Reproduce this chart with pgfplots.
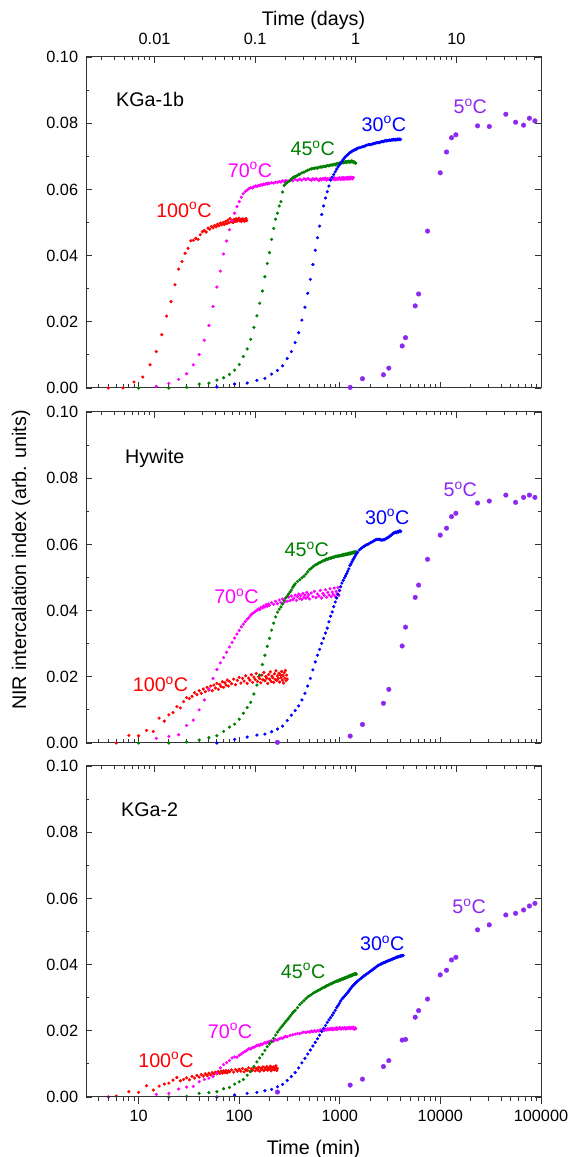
\documentclass[border=0pt]{standalone}
\usepackage{fontspec}
\setmainfont{Liberation Sans}
\usepackage{pgfplots}
\pgfplotsset{compat=1.18}
\newcommand\ticksize{\fontsize{16.3}{19}\selectfont}
\newcommand\labsize{\fontsize{19.7}{23}\selectfont}
\definecolor{cred}{RGB}{255,0,0}
\definecolor{cmag}{RGB}{255,0,255}
\definecolor{cgreen}{RGB}{0,128,0}
\definecolor{cblue}{RGB}{0,0,255}
\definecolor{cviol}{RGB}{140,40,240}
\definecolor{axgray}{RGB}{51,51,51}
\tikzset{tlab/.style={font=\labsize, anchor=base, inner sep=0pt}}
\pgfplotsset{
  every axis/.append style={
    width=455pt, height=331pt, scale only axis,
    tick align=inside,
    major tick length=6pt, minor tick length=3.5pt,
    axis line style={line width=1pt, draw=axgray},
    every tick/.append style={line width=0.9pt, draw=axgray},
    tick label style={font=\ticksize},
  },
}
\begin{document}
\begin{tikzpicture}
\path[use as bounding box] (0,0) rectangle (571pt,1157pt);
%================ Panel 1: KGa-1b
\begin{axis}[at={(86pt,769pt)}, anchor=south west,
    xmode=log, xmin=3, xmax=100000, ymin=0, ymax=0.1,
    xtick={10,100,1000,10000,100000},
    minor xtick={4,5,6,7,8,9,20,30,40,50,60,70,80,90,200,300,400,500,600,700,800,900,2000,3000,4000,5000,6000,7000,8000,9000,20000,30000,40000,50000,60000,70000,80000,90000},
    xtick pos=bottom, xticklabels={},
    ytick={0,0.02,0.04,0.06,0.08,0.1},
    minor ytick={0.01,0.03,0.05,0.07,0.09},
    scaled y ticks=false,
    yticklabel style={/pgf/number format/fixed, /pgf/number format/fixed zerofill, /pgf/number format/precision=2, /pgf/number format/assume math mode=true, anchor=east, inner sep=0pt, xshift=-7.7pt}]
\addplot[only marks, mark=*, mark size=1.4pt, color=cred] coordinates {(5,0.0000)(7,0.0000)(9,0.0018)(11,0.0033)(13,0.0070)(15,0.0110)(17,0.0161)(19,0.0217)(21,0.0261)(23,0.0312)(25,0.0359)(27,0.0382)(29,0.0407)(31,0.0422)(33,0.0445)(35,0.0446)(37,0.0452)(39,0.0449)(41,0.0463)(43,0.0472)(45,0.0476)(47,0.0471)(49,0.0483)(51,0.0480)(53,0.0488)(55,0.0484)(57,0.0491)(59,0.0487)(61,0.0495)(63,0.0490)(65,0.0498)(67,0.0493)(69,0.0500)(71,0.0494)(73,0.0503)(75,0.0497)(77,0.0507)(79,0.0499)(81,0.0512)(83,0.0502)(85,0.0506)(87,0.0500)(89,0.0509)(91,0.0503)(93,0.0511)(95,0.0504)(97,0.0508)(99,0.0513)(101,0.0505)(103,0.0509)(105,0.0503)(107,0.0511)(109,0.0506)(111,0.0510)(113,0.0504)(115,0.0508)(117,0.0512)(119,0.0506)};
\addplot[only marks, mark=*, mark size=1.4pt, color=cmag] coordinates {(15,0.0005)(20,0.0014)(25,0.0026)(30,0.0043)(35,0.0070)(40,0.0101)(45,0.0144)(50,0.0189)(55,0.0246)(60,0.0305)(65,0.0353)(70,0.0405)(75,0.0444)(80,0.0478)(85,0.0505)(90,0.0528)(95,0.0548)(100,0.0563)(105,0.0576)(110,0.0587)(115,0.0594)(120,0.0598)(125,0.0602)(130,0.0605)(135,0.0604)(140,0.0608)(145,0.0610)(150,0.0609)(155,0.0612)(160,0.0611)(165,0.0614)(170,0.0613)(175,0.0616)(180,0.0615)(185,0.0618)(190,0.0616)(195,0.0619)(200,0.0618)(210,0.0620)(220,0.0619)(230,0.0622)(240,0.0621)(250,0.0624)(260,0.0622)(270,0.0626)(280,0.0624)(290,0.0627)(300,0.0625)(320,0.0628)(340,0.0626)(360,0.0630)(380,0.0627)(400,0.0631)(420,0.0628)(440,0.0632)(460,0.0629)(480,0.0633)(500,0.0630)(520,0.0628)(540,0.0632)(560,0.0629)(580,0.0633)(600,0.0630)(620,0.0627)(640,0.0632)(660,0.0629)(680,0.0633)(700,0.0630)(720,0.0634)(740,0.0628)(760,0.0632)(780,0.0630)(800,0.0634)(820,0.0629)(840,0.0633)(860,0.0631)(880,0.0635)(900,0.0629)(920,0.0633)(940,0.0630)(960,0.0634)(980,0.0631)(1000,0.0635)(1020,0.0630)(1040,0.0634)(1060,0.0631)(1080,0.0636)(1100,0.0630)(1120,0.0634)(1140,0.0632)(1160,0.0636)(1180,0.0631)(1200,0.0635)(1220,0.0632)(1240,0.0637)(1260,0.0631)(1280,0.0635)(1300,0.0633)(1320,0.0637)(1340,0.0632)(1360,0.0636)};
\addplot[only marks, mark=*, mark size=1.4pt, color=cgreen] coordinates {(10,0.0000)(20,0.0000)(30,0.0002)(40,0.0012)(50,0.0015)(60,0.0024)(70,0.0031)(80,0.0041)(90,0.0054)(100,0.0071)(110,0.0095)(120,0.0118)(130,0.0147)(140,0.0183)(150,0.0218)(160,0.0256)(170,0.0293)(180,0.0336)(190,0.0376)(200,0.0409)(210,0.0449)(220,0.0482)(230,0.0510)(240,0.0528)(250,0.0550)(260,0.0563)(270,0.0592)(280,0.0612)(290,0.0617)(300,0.0621)(310,0.0624)(320,0.0627)(330,0.0631)(340,0.0635)(350,0.0637)(360,0.0639)(370,0.0640)(380,0.0642)(390,0.0645)(400,0.0646)(420,0.0650)(440,0.0652)(460,0.0655)(480,0.0658)(500,0.0660)(520,0.0662)(540,0.0663)(560,0.0664)(580,0.0665)(600,0.0664)(620,0.0667)(640,0.0668)(660,0.0667)(680,0.0669)(700,0.0670)(720,0.0669)(740,0.0671)(760,0.0672)(780,0.0671)(800,0.0673)(820,0.0674)(840,0.0673)(860,0.0675)(880,0.0676)(900,0.0674)(920,0.0677)(940,0.0678)(960,0.0676)(980,0.0679)(1000,0.0680)(1020,0.0678)(1040,0.0681)(1060,0.0682)(1080,0.0680)(1100,0.0683)(1120,0.0682)(1140,0.0684)(1160,0.0681)(1180,0.0684)(1200,0.0683)(1220,0.0685)(1240,0.0682)(1260,0.0685)(1280,0.0683)(1300,0.0686)(1320,0.0683)(1340,0.0685)(1360,0.0682)(1380,0.0684)(1400,0.0681)(1420,0.0680)(1440,0.0679)};
\addplot[only marks, mark=*, mark size=1.4pt, color=cblue] coordinates {(60,0.0003)(90,0.0012)(120,0.0015)(150,0.0023)(180,0.0029)(210,0.0042)(240,0.0053)(270,0.0067)(300,0.0089)(330,0.0110)(360,0.0137)(390,0.0167)(420,0.0205)(450,0.0244)(480,0.0286)(510,0.0328)(540,0.0373)(570,0.0416)(600,0.0454)(630,0.0489)(660,0.0524)(690,0.0550)(720,0.0574)(750,0.0593)(780,0.0610)(810,0.0628)(840,0.0637)(870,0.0645)(900,0.0653)(930,0.0661)(960,0.0668)(990,0.0674)(1020,0.0679)(1050,0.0685)(1080,0.0690)(1110,0.0695)(1140,0.0699)(1170,0.0702)(1200,0.0705)(1230,0.0708)(1260,0.0711)(1290,0.0713)(1320,0.0715)(1350,0.0717)(1380,0.0718)(1410,0.0720)(1440,0.0721)(1470,0.0722)(1500,0.0724)(1560,0.0726)(1620,0.0727)(1680,0.0729)(1740,0.0730)(1800,0.0732)(1860,0.0734)(1920,0.0735)(1980,0.0736)(2040,0.0735)(2100,0.0737)(2160,0.0738)(2220,0.0739)(2280,0.0740)(2340,0.0741)(2400,0.0742)(2460,0.0741)(2520,0.0743)(2580,0.0744)(2640,0.0745)(2700,0.0744)(2760,0.0746)(2820,0.0747)(2880,0.0746)(2940,0.0748)(3000,0.0747)(3060,0.0748)(3120,0.0749)(3180,0.0748)(3240,0.0749)(3300,0.0750)(3360,0.0749)(3420,0.0751)(3480,0.0750)(3540,0.0749)(3600,0.0751)(3660,0.0750)(3720,0.0752)(3780,0.0750)(3840,0.0751)(3900,0.0752)(3960,0.0750)(4020,0.0751)};
\addplot[only marks, mark=*, mark size=2.3pt, color=cviol] coordinates {(1268,0.0002)(1680,0.0028)(2716,0.0040)(3070,0.0060)(4170,0.0127)(4500,0.0152)(5620,0.0248)(6070,0.0284)(7450,0.0474)(9960,0.0650)(11500,0.0713)(12900,0.0756)(14260,0.0765)(23400,0.0792)(30600,0.0790)(44700,0.0827)(55900,0.0803)(67100,0.0794)(76700,0.0815)(87000,0.0807)};
\node[font=\labsize, anchor=base west, inner sep=0pt] at (axis cs:5.95,0.0850) {KGa-1b};
\node[tlab, text=cred] at (axis cs:28.2,0.0516) {100\textsuperscript{o}C};
\node[tlab, text=cmag] at (axis cs:128,0.0637) {70\textsuperscript{o}C};
\node[tlab, text=cgreen] at (axis cs:538,0.0701) {45\textsuperscript{o}C};
\node[tlab, text=cblue] at (axis cs:2740,0.0776) {30\textsuperscript{o}C};
\node[tlab, text=cviol] at (axis cs:19800,0.0828) {5\textsuperscript{o}C};
\end{axis}
\begin{axis}[at={(86pt,769pt)}, anchor=south west,
    xmode=log, xmin=0.00208333, xmax=69.4444, ymin=0, ymax=1,
    hide y axis, axis x line*=top,
    xtick={0.01,0.1,1,10}, xticklabels={0.01,0.1,1,10},
    minor xtick={0.003,0.004,0.005,0.006,0.007,0.008,0.009,0.02,0.03,0.04,0.05,0.06,0.07,0.08,0.09,0.2,0.3,0.4,0.5,0.6,0.7,0.8,0.9,2,3,4,5,6,7,8,9,20,30,40,50,60},
    xticklabel style={anchor=base, inner sep=0pt, yshift=12pt},
    xlabel={Time (days)}, xlabel style={at={(axis description cs:0.5,1)}, anchor=base, inner sep=0pt, yshift=31pt, font=\labsize}]
\addplot[draw=none] coordinates {(1,0.5)};
\end{axis}
%================ Panel 2: Hywite
\begin{axis}[at={(86pt,414pt)}, anchor=south west,
    xmode=log, xmin=3, xmax=100000, ymin=0, ymax=0.1,
    xtick={10,100,1000,10000,100000},
    minor xtick={4,5,6,7,8,9,20,30,40,50,60,70,80,90,200,300,400,500,600,700,800,900,2000,3000,4000,5000,6000,7000,8000,9000,20000,30000,40000,50000,60000,70000,80000,90000},
    xtick pos=bottom, xticklabels={},
    ytick={0,0.02,0.04,0.06,0.08,0.1},
    minor ytick={0.01,0.03,0.05,0.07,0.09},
    scaled y ticks=false,
    yticklabel style={/pgf/number format/fixed, /pgf/number format/fixed zerofill, /pgf/number format/precision=2, /pgf/number format/assume math mode=true, anchor=east, inner sep=0pt, xshift=-7.7pt},
    ylabel={NIR intercalation index (arb. units)}, ylabel style={at={(axis description cs:-0.1429,0.553)}, anchor=center, inner sep=0pt, font=\labsize}]
\addplot[only marks, mark=*, mark size=1.4pt, color=cred] coordinates {(6,0.0000)(8,0.0023)(10,0.0022)(12,0.0038)(14,0.0035)(16,0.0075)(18,0.0066)(20,0.0085)(22,0.0092)(24,0.0110)(26,0.0106)(28,0.0125)(30,0.0137)(32,0.0134)(34,0.0141)(36,0.0152)(38,0.0146)(40,0.0158)(42,0.0150)(44,0.0163)(46,0.0155)(48,0.0168)(50,0.0160)(52,0.0172)(54,0.0158)(56,0.0175)(58,0.0166)(60,0.0180)(62,0.0162)(64,0.0177)(66,0.0170)(68,0.0185)(70,0.0168)(72,0.0182)(74,0.0175)(76,0.0190)(78,0.0172)(80,0.0186)(84,0.0179)(88,0.0193)(92,0.0176)(96,0.0189)(100,0.0198)(104,0.0181)(108,0.0195)(112,0.0187)(116,0.0203)(120,0.0180)(124,0.0196)(128,0.0190)(132,0.0206)(136,0.0183)(140,0.0199)(144,0.0192)(148,0.0210)(152,0.0186)(156,0.0200)(160,0.0194)(164,0.0182)(168,0.0205)(172,0.0191)(176,0.0213)(180,0.0188)(184,0.0201)(188,0.0196)(192,0.0180)(196,0.0207)(200,0.0193)(204,0.0215)(208,0.0186)(212,0.0202)(216,0.0197)(220,0.0183)(224,0.0209)(228,0.0192)(232,0.0218)(236,0.0189)(240,0.0203)(244,0.0195)(248,0.0211)(252,0.0184)(256,0.0206)(260,0.0198)(264,0.0216)(268,0.0190)(272,0.0204)(276,0.0181)(280,0.0212)(284,0.0196)(288,0.0219)(292,0.0188)(296,0.0205)(300,0.0193)};
\addplot[only marks, mark=*, mark size=1.4pt, color=cmag] coordinates {(15,0.0014)(20,0.0020)(25,0.0025)(30,0.0053)(35,0.0069)(40,0.0100)(45,0.0130)(50,0.0163)(55,0.0195)(60,0.0222)(65,0.0242)(70,0.0258)(75,0.0274)(80,0.0290)(85,0.0304)(90,0.0317)(95,0.0329)(100,0.0340)(105,0.0351)(110,0.0359)(115,0.0367)(120,0.0374)(125,0.0379)(130,0.0386)(135,0.0391)(140,0.0394)(145,0.0398)(150,0.0401)(155,0.0405)(160,0.0403)(165,0.0410)(170,0.0408)(175,0.0414)(180,0.0411)(185,0.0418)(190,0.0413)(195,0.0420)(200,0.0416)(210,0.0424)(220,0.0419)(230,0.0428)(240,0.0421)(250,0.0432)(260,0.0424)(270,0.0435)(280,0.0426)(290,0.0438)(300,0.0428)(310,0.0441)(320,0.0430)(330,0.0444)(340,0.0433)(350,0.0438)(360,0.0447)(370,0.0431)(380,0.0442)(390,0.0450)(400,0.0436)(410,0.0445)(420,0.0434)(430,0.0452)(440,0.0440)(450,0.0447)(460,0.0437)(470,0.0455)(480,0.0441)(490,0.0448)(500,0.0435)(520,0.0453)(540,0.0442)(560,0.0458)(580,0.0439)(600,0.0450)(620,0.0444)(640,0.0461)(660,0.0438)(680,0.0452)(700,0.0446)(720,0.0463)(740,0.0440)(760,0.0455)(780,0.0447)(800,0.0466)(820,0.0442)(840,0.0456)(860,0.0449)(880,0.0468)(900,0.0443)(920,0.0458)(940,0.0451)(960,0.0470)(980,0.0446)(1000,0.0460)};
\addplot[only marks, mark=*, mark size=1.4pt, color=cgreen] coordinates {(10,0.0000)(20,0.0000)(30,0.0003)(40,0.0009)(50,0.0016)(60,0.0022)(70,0.0035)(80,0.0048)(90,0.0057)(100,0.0072)(110,0.0090)(120,0.0107)(130,0.0123)(140,0.0148)(150,0.0175)(160,0.0205)(170,0.0237)(180,0.0265)(190,0.0292)(200,0.0316)(210,0.0341)(220,0.0362)(230,0.0381)(240,0.0395)(250,0.0404)(260,0.0411)(270,0.0420)(280,0.0430)(290,0.0438)(300,0.0444)(310,0.0450)(320,0.0456)(330,0.0462)(340,0.0470)(350,0.0476)(360,0.0481)(380,0.0488)(400,0.0493)(420,0.0499)(440,0.0504)(460,0.0510)(480,0.0517)(500,0.0524)(520,0.0528)(540,0.0532)(560,0.0536)(580,0.0539)(600,0.0541)(620,0.0544)(640,0.0546)(660,0.0548)(680,0.0550)(700,0.0552)(720,0.0553)(740,0.0556)(760,0.0555)(780,0.0558)(800,0.0559)(820,0.0558)(840,0.0561)(860,0.0562)(880,0.0561)(900,0.0564)(920,0.0563)(940,0.0565)(960,0.0564)(980,0.0566)(1000,0.0565)(1020,0.0567)(1040,0.0566)(1060,0.0569)(1080,0.0567)(1100,0.0570)(1120,0.0568)(1140,0.0571)(1160,0.0569)(1180,0.0572)(1200,0.0570)(1220,0.0573)(1240,0.0571)(1260,0.0574)(1280,0.0572)(1300,0.0575)(1320,0.0573)(1340,0.0576)(1360,0.0574)(1380,0.0577)(1400,0.0575)(1420,0.0578)(1440,0.0576)(1460,0.0577)};
\addplot[only marks, mark=*, mark size=1.4pt, color=cblue] coordinates {(60,0.0000)(90,0.0011)(120,0.0018)(150,0.0024)(180,0.0027)(210,0.0034)(240,0.0042)(270,0.0051)(300,0.0068)(330,0.0084)(360,0.0098)(390,0.0112)(420,0.0130)(450,0.0150)(480,0.0172)(510,0.0195)(540,0.0221)(570,0.0245)(600,0.0265)(630,0.0283)(660,0.0301)(690,0.0316)(720,0.0332)(750,0.0347)(780,0.0366)(810,0.0383)(840,0.0396)(870,0.0412)(900,0.0426)(930,0.0438)(960,0.0449)(990,0.0461)(1020,0.0472)(1050,0.0483)(1080,0.0491)(1110,0.0499)(1140,0.0505)(1170,0.0512)(1200,0.0519)(1230,0.0526)(1260,0.0536)(1290,0.0541)(1320,0.0547)(1350,0.0553)(1380,0.0558)(1410,0.0563)(1440,0.0568)(1470,0.0572)(1500,0.0576)(1560,0.0583)(1620,0.0587)(1680,0.0591)(1740,0.0594)(1800,0.0597)(1860,0.0599)(1920,0.0601)(1980,0.0603)(2040,0.0606)(2100,0.0608)(2160,0.0610)(2220,0.0612)(2280,0.0614)(2340,0.0615)(2400,0.0615)(2460,0.0616)(2520,0.0614)(2580,0.0613)(2640,0.0613)(2700,0.0614)(2760,0.0614)(2820,0.0616)(2880,0.0617)(2940,0.0619)(3000,0.0620)(3060,0.0622)(3120,0.0624)(3180,0.0626)(3240,0.0628)(3300,0.0630)(3360,0.0632)(3420,0.0634)(3480,0.0635)(3540,0.0636)(3600,0.0637)(3660,0.0635)(3720,0.0638)(3780,0.0639)(3840,0.0637)(3900,0.0640)(3960,0.0641)(4020,0.0639)};
\addplot[only marks, mark=*, mark size=2.3pt, color=cviol] coordinates {(240,0.0002)(1268,0.0021)(1680,0.0056)(2716,0.0120)(3070,0.0162)(4170,0.0293)(4500,0.0350)(5620,0.0440)(6070,0.0477)(7450,0.0555)(9960,0.0628)(11500,0.0649)(12900,0.0684)(14260,0.0694)(23400,0.0725)(30600,0.0731)(44700,0.0749)(55900,0.0727)(67100,0.0742)(76700,0.0749)(87000,0.0742)};
\node[font=\labsize, anchor=base west, inner sep=0pt] at (axis cs:7.31,0.0843) {Hywite};
\node[tlab, text=cred] at (axis cs:16.5,0.0155) {100\textsuperscript{o}C};
\node[tlab, text=cmag] at (axis cs:93.8,0.0420) {70\textsuperscript{o}C};
\node[tlab, text=cgreen] at (axis cs:470,0.0563) {45\textsuperscript{o}C};
\node[tlab, text=cblue] at (axis cs:2960,0.0661) {30\textsuperscript{o}C};
\node[tlab, text=cviol] at (axis cs:15740,0.0744) {5\textsuperscript{o}C};
\end{axis}
\begin{axis}[at={(86pt,414pt)}, anchor=south west,
    xmode=log, xmin=0.00208333, xmax=69.4444, ymin=0, ymax=1,
    hide y axis, axis x line*=top,
    xtick={0.01,0.1,1,10}, xticklabels={},
    minor xtick={0.003,0.004,0.005,0.006,0.007,0.008,0.009,0.02,0.03,0.04,0.05,0.06,0.07,0.08,0.09,0.2,0.3,0.4,0.5,0.6,0.7,0.8,0.9,2,3,4,5,6,7,8,9,20,30,40,50,60}]
\addplot[draw=none] coordinates {(1,0.5)};
\end{axis}
%================ Panel 3: KGa-2
\begin{axis}[at={(86pt,60pt)}, anchor=south west,
    xmode=log, xmin=3, xmax=100000, ymin=0, ymax=0.1,
    xmajorticks=false, xminorticks=false,
    ytick={0,0.02,0.04,0.06,0.08,0.1},
    minor ytick={0.01,0.03,0.05,0.07,0.09},
    scaled y ticks=false,
    yticklabel style={/pgf/number format/fixed, /pgf/number format/fixed zerofill, /pgf/number format/precision=2, /pgf/number format/assume math mode=true, anchor=east, inner sep=0pt, xshift=-7.7pt}]
\addplot[only marks, mark=*, mark size=1.4pt, color=cred] coordinates {(5,0.0000)(6,0.0003)(8,0.0016)(10,0.0014)(12,0.0034)(14,0.0021)(16,0.0033)(18,0.0039)(20,0.0042)(22,0.0051)(24,0.0059)(26,0.0049)(28,0.0053)(30,0.0058)(32,0.0052)(34,0.0062)(36,0.0057)(38,0.0065)(40,0.0060)(42,0.0068)(44,0.0063)(46,0.0070)(48,0.0065)(50,0.0072)(52,0.0067)(54,0.0074)(56,0.0069)(58,0.0075)(60,0.0070)(62,0.0077)(64,0.0071)(66,0.0078)(68,0.0072)(70,0.0079)(72,0.0074)(74,0.0080)(76,0.0073)(78,0.0079)(80,0.0076)(84,0.0082)(88,0.0075)(92,0.0083)(96,0.0078)(100,0.0084)(104,0.0078)(108,0.0086)(112,0.0076)(116,0.0083)(120,0.0080)(124,0.0088)(128,0.0077)(132,0.0085)(136,0.0081)(140,0.0089)(144,0.0079)(148,0.0086)(152,0.0082)(156,0.0090)(160,0.0078)(164,0.0087)(168,0.0083)(172,0.0091)(176,0.0080)(180,0.0088)(184,0.0084)(188,0.0092)(192,0.0081)(196,0.0087)(200,0.0085)(204,0.0093)(208,0.0079)(212,0.0089)(216,0.0083)(220,0.0091)(224,0.0082)(228,0.0088)(232,0.0094)(236,0.0080)(240,0.0086)};
\addplot[only marks, mark=*, mark size=1.4pt, color=cmag] coordinates {(5,0.0000)(15,0.0008)(20,0.0011)(25,0.0024)(30,0.0030)(35,0.0032)(40,0.0046)(45,0.0053)(50,0.0057)(55,0.0062)(60,0.0072)(65,0.0088)(70,0.0098)(75,0.0104)(80,0.0110)(85,0.0118)(90,0.0121)(95,0.0120)(100,0.0126)(105,0.0130)(110,0.0135)(115,0.0138)(120,0.0142)(125,0.0146)(130,0.0145)(135,0.0149)(140,0.0150)(145,0.0153)(150,0.0155)(155,0.0157)(160,0.0156)(165,0.0160)(170,0.0159)(175,0.0162)(180,0.0164)(185,0.0163)(190,0.0166)(195,0.0165)(200,0.0168)(210,0.0170)(220,0.0169)(230,0.0173)(240,0.0172)(250,0.0176)(260,0.0178)(270,0.0177)(280,0.0181)(290,0.0183)(300,0.0182)(320,0.0186)(340,0.0188)(360,0.0190)(380,0.0192)(400,0.0191)(420,0.0194)(440,0.0196)(460,0.0195)(480,0.0197)(500,0.0196)(520,0.0199)(540,0.0197)(560,0.0200)(580,0.0198)(600,0.0201)(620,0.0199)(640,0.0203)(660,0.0200)(680,0.0204)(700,0.0201)(720,0.0205)(740,0.0202)(760,0.0206)(780,0.0203)(800,0.0207)(820,0.0204)(840,0.0208)(860,0.0203)(880,0.0207)(900,0.0205)(920,0.0209)(940,0.0204)(960,0.0208)(980,0.0206)(1000,0.0210)(1030,0.0205)(1060,0.0209)(1090,0.0206)(1120,0.0210)(1150,0.0205)(1180,0.0209)(1210,0.0207)(1240,0.0211)(1270,0.0206)(1300,0.0210)(1330,0.0207)(1360,0.0211)(1390,0.0205)(1420,0.0209)(1440,0.0206)};
\addplot[only marks, mark=*, mark size=1.4pt, color=cgreen] coordinates {(20,0.0000)(30,0.0002)(40,0.0011)(50,0.0013)(60,0.0016)(70,0.0025)(80,0.0029)(90,0.0039)(100,0.0046)(110,0.0053)(120,0.0066)(130,0.0077)(140,0.0092)(150,0.0106)(160,0.0118)(170,0.0129)(180,0.0141)(190,0.0152)(200,0.0160)(210,0.0167)(220,0.0177)(230,0.0187)(240,0.0196)(250,0.0203)(260,0.0210)(270,0.0216)(280,0.0222)(290,0.0228)(300,0.0233)(310,0.0238)(320,0.0244)(330,0.0249)(340,0.0254)(350,0.0258)(360,0.0262)(380,0.0270)(400,0.0279)(420,0.0285)(440,0.0291)(460,0.0297)(480,0.0302)(500,0.0306)(520,0.0309)(540,0.0313)(560,0.0316)(580,0.0318)(600,0.0321)(620,0.0323)(640,0.0325)(660,0.0328)(680,0.0330)(700,0.0332)(720,0.0333)(740,0.0336)(760,0.0337)(780,0.0339)(800,0.0341)(820,0.0342)(840,0.0344)(860,0.0345)(880,0.0347)(900,0.0348)(920,0.0349)(940,0.0351)(960,0.0350)(980,0.0353)(1000,0.0354)(1020,0.0353)(1040,0.0356)(1060,0.0357)(1080,0.0356)(1100,0.0359)(1120,0.0360)(1140,0.0359)(1160,0.0362)(1180,0.0361)(1200,0.0364)(1220,0.0363)(1240,0.0366)(1260,0.0365)(1280,0.0367)(1300,0.0366)(1320,0.0369)(1340,0.0368)(1360,0.0371)(1380,0.0369)(1400,0.0372)(1420,0.0370)(1440,0.0373)(1460,0.0371)};
\addplot[only marks, mark=*, mark size=1.4pt, color=cblue] coordinates {(60,0.0000)(90,0.0006)(120,0.0011)(150,0.0014)(180,0.0019)(210,0.0023)(240,0.0031)(270,0.0038)(300,0.0050)(330,0.0062)(360,0.0074)(390,0.0088)(420,0.0103)(450,0.0117)(480,0.0130)(510,0.0142)(540,0.0154)(570,0.0165)(600,0.0176)(630,0.0187)(660,0.0198)(690,0.0207)(720,0.0216)(750,0.0225)(780,0.0233)(810,0.0240)(840,0.0247)(870,0.0254)(900,0.0262)(930,0.0270)(960,0.0276)(990,0.0283)(1020,0.0290)(1050,0.0296)(1080,0.0300)(1110,0.0304)(1140,0.0308)(1170,0.0312)(1200,0.0316)(1230,0.0320)(1260,0.0325)(1290,0.0329)(1320,0.0333)(1350,0.0336)(1380,0.0339)(1410,0.0342)(1440,0.0345)(1470,0.0347)(1500,0.0350)(1560,0.0354)(1620,0.0358)(1680,0.0362)(1740,0.0366)(1800,0.0369)(1860,0.0372)(1920,0.0375)(1980,0.0378)(2040,0.0381)(2100,0.0384)(2160,0.0387)(2220,0.0389)(2280,0.0392)(2340,0.0395)(2400,0.0397)(2460,0.0399)(2520,0.0401)(2580,0.0402)(2640,0.0404)(2700,0.0405)(2760,0.0406)(2820,0.0407)(2880,0.0409)(2940,0.0410)(3000,0.0411)(3060,0.0412)(3120,0.0413)(3180,0.0414)(3240,0.0415)(3300,0.0416)(3360,0.0417)(3420,0.0418)(3480,0.0419)(3540,0.0420)(3600,0.0421)(3660,0.0422)(3720,0.0423)(3780,0.0423)(3840,0.0424)(3900,0.0425)(3960,0.0425)(4020,0.0426)(4080,0.0426)(4140,0.0427)(4200,0.0427)(4260,0.0428)};
\addplot[only marks, mark=*, mark size=2.3pt, color=cviol] coordinates {(240,0.0015)(1268,0.0036)(1680,0.0054)(2716,0.0092)(3070,0.0110)(4170,0.0172)(4500,0.0174)(5620,0.0241)(6070,0.0261)(7450,0.0296)(9960,0.0369)(11500,0.0383)(12900,0.0414)(14260,0.0422)(23400,0.0505)(30600,0.0520)(44700,0.0550)(55900,0.0555)(67100,0.0565)(76700,0.0577)(87000,0.0585)};
\node[font=\labsize, anchor=base west, inner sep=0pt] at (axis cs:6.67,0.0847) {KGa-2};
\node[tlab, text=cred] at (axis cs:18.7,0.0090) {100\textsuperscript{o}C};
\node[tlab, text=cmag] at (axis cs:81,0.0177) {70\textsuperscript{o}C};
\node[tlab, text=cgreen] at (axis cs:432,0.0359) {45\textsuperscript{o}C};
\node[tlab, text=cblue] at (axis cs:2640,0.0442) {30\textsuperscript{o}C};
\node[tlab, text=cviol] at (axis cs:19300,0.0553) {5\textsuperscript{o}C};
\end{axis}
\begin{axis}[at={(86pt,60pt)}, anchor=south west,
    xmode=log, xmin=0.00208333, xmax=69.4444, ymin=0, ymax=1,
    hide y axis, axis x line*=top,
    xtick={0.01,0.1,1,10}, xticklabels={},
    minor xtick={0.003,0.004,0.005,0.006,0.007,0.008,0.009,0.02,0.03,0.04,0.05,0.06,0.07,0.08,0.09,0.2,0.3,0.4,0.5,0.6,0.7,0.8,0.9,2,3,4,5,6,7,8,9,20,30,40,50,60}]
\addplot[draw=none] coordinates {(1,0.5)};
\end{axis}
\begin{axis}[at={(86pt,60pt)}, anchor=south west,
    xmode=log, xmin=3, xmax=100000, ymin=0, ymax=1,
    hide y axis, axis x line*=bottom,
    tick align=outside, major tick length=7pt, minor tick length=3.5pt,
    xtick={10,100,1000,10000,100000}, xticklabels={10,100,1000,10000,100000},
    minor xtick={4,5,6,7,8,9,20,30,40,50,60,70,80,90,200,300,400,500,600,700,800,900,2000,3000,4000,5000,6000,7000,8000,9000,20000,30000,40000,50000,60000,70000,80000,90000},
    xticklabel style={anchor=base, inner sep=0pt, yshift=-17.7pt},
    xlabel={Time (min)}, xlabel style={at={(axis description cs:0.5,0)}, anchor=base, inner sep=0pt, yshift=-57pt, font=\labsize}]
\addplot[draw=none] coordinates {(100,0.5)};
\end{axis}
\end{tikzpicture}
\end{document}
